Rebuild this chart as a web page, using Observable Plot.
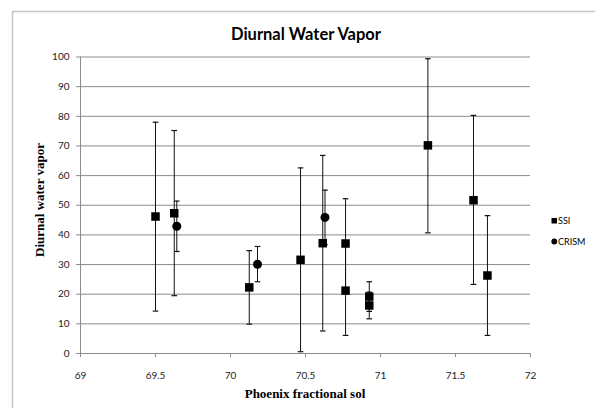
<!DOCTYPE html>
<html>
<head>
<meta charset="utf-8">
<script src="https://cdn.jsdelivr.net/npm/d3@7"></script>
<script src="https://cdn.jsdelivr.net/npm/@observablehq/plot@0.6"></script>
<style>
  html, body { margin: 0; padding: 0; background: #fff; }
  #chart { width: 595px; height: 408px; }
</style>
</head>
<body>
<div id="chart"></div>
<script>
// SSI observations
const ssiSol  = [69.50, 69.625, 70.125, 70.467, 70.615, 70.767, 70.767, 70.925, 70.925, 71.316, 71.62, 71.713];
const ssiVal  = [46.2, 47.3, 22.3, 31.6, 37.2, 37.1, 21.2, 19.2, 16.2, 70.2, 51.7, 26.3];
const ssiLow  = [14.3, 19.5, 9.9, 0.6, 7.6, 22.0, 6.1, 14.2, 11.7, 40.7, 23.3, 6.1];
const ssiHigh = [78.0, 75.2, 34.7, 62.6, 66.8, 52.2, 36.3, 24.2, 20.7, 99.4, 80.3, 46.5];

// CRISM observations
const crismSol  = [69.642, 70.18, 70.63];
const crismVal  = [42.9, 30.1, 45.9];
const crismLow  = [34.4, 24.2, 36.7];
const crismHigh = [51.4, 36.1, 55.1];

const xTicks = [69, 69.5, 70, 70.5, 71, 71.5, 72];
const yTicks = [0, 10, 20, 30, 40, 50, 60, 70, 80, 90, 100];

const ssi = ssiSol.map((s, i) => ({sol: s, v: ssiVal[i], lo: ssiLow[i], hi: ssiHigh[i]}));
const crism = crismSol.map((s, i) => ({sol: s, v: crismVal[i], lo: crismLow[i], hi: crismHigh[i]}));
const all = ssi.concat(crism);

const capSymbol = {
  draw(context, size) {
    const r = Math.sqrt(size / Math.PI);
    context.moveTo(-r, 0);
    context.lineTo(r, 0);
  }
};

const W = 595, H = 408;
const mL = 80, mR = 65, mT = 56.5, mB = 55;

const plot = Plot.plot({
  width: W,
  height: H,
  marginLeft: mL,
  marginRight: mR,
  marginTop: mT,
  marginBottom: mB,
  style: {fontFamily: "Lato, 'Liberation Sans', sans-serif", fontSize: "10px", color: "#222", background: "transparent"},
  x: {domain: [69, 72]},
  y: {domain: [0, 100]},
  marks: [
    Plot.gridY(yTicks.filter(d => d > 0), {stroke: "#8c8c8c", strokeOpacity: 1, strokeWidth: 1}),
    Plot.ruleY([0], {stroke: "#8c8c8c", strokeWidth: 1}),
    Plot.ruleX([69], {stroke: "#8c8c8c", strokeWidth: 1}),
    Plot.axisY({ticks: yTicks, tickSize: 4, tickPadding: 7, stroke: "#8c8c8c", label: null, fill: "#222"}),
    Plot.axisX({ticks: xTicks, tickSize: 4, tickPadding: 14, stroke: "#8c8c8c", label: null, fill: "#222", tickFormat: d => String(d)}),
    Plot.ruleX(all, {x: "sol", y1: "lo", y2: "hi", stroke: "#111", strokeWidth: 1}),
    Plot.dot(all, {x: "sol", y: "lo", symbol: capSymbol, r: 2.8, stroke: "#111", strokeWidth: 1.2, fill: "none"}),
    Plot.dot(all, {x: "sol", y: "hi", symbol: capSymbol, r: 2.8, stroke: "#111", strokeWidth: 1.2, fill: "none"}),
    Plot.dot(ssi, {x: "sol", y: "v", symbol: "square", r: 4.8, fill: "#000", stroke: "none"}),
    Plot.dot(crism, {x: "sol", y: "v", symbol: "circle", r: 4.5, fill: "#000", stroke: "none"})
  ]
});

document.getElementById("chart").appendChild(plot);

const svg = d3.select(plot);
// outer frame
svg.insert("path", ":first-child")
  .attr("d", `M12.5,${H} L12.5,11.5 L${W},11.5`)
  .attr("fill", "none").attr("stroke", "#c4c4c4").attr("stroke-width", 1.5);

svg.append("text")
  .attr("x", 306).attr("y", 40)
  .attr("text-anchor", "middle")
  .attr("font-family", "Lato, 'Liberation Sans', sans-serif")
  .attr("font-weight", "bold").attr("font-size", 16.5).attr("fill", "#000")
  .text("Diurnal Water Vapor");

svg.append("text")
  .attr("x", 305).attr("y", 398)
  .attr("text-anchor", "middle")
  .attr("font-family", "'Liberation Serif', 'Times New Roman', serif")
  .attr("font-weight", "bold").attr("font-size", 13).attr("fill", "#000")
  .text("Phoenix fractional sol");

svg.append("text")
  .attr("transform", "translate(44,200) rotate(-90)")
  .attr("text-anchor", "middle")
  .attr("font-family", "'Liberation Serif', 'Times New Roman', serif")
  .attr("font-weight", "bold").attr("font-size", 13).attr("fill", "#000")
  .text("Diurnal water vapor");

// legend
const lg = svg.append("g").attr("font-family", "Lato, 'Liberation Sans', sans-serif").attr("font-size", 9).attr("fill", "#000").attr("text-anchor", "start");
lg.append("rect").attr("x", 551.5).attr("y", 218).attr("width", 5.5).attr("height", 5.5).attr("fill", "#000");
lg.append("text").attr("x", 558).attr("y", 224).attr("text-anchor", "start").text("SSI");
lg.append("circle").attr("cx", 554.3).attr("cy", 241.5).attr("r", 2.9).attr("fill", "#000");
lg.append("text").attr("x", 558).attr("y", 245).attr("text-anchor", "start").text("CRISM");
</script>
</body>
</html>
